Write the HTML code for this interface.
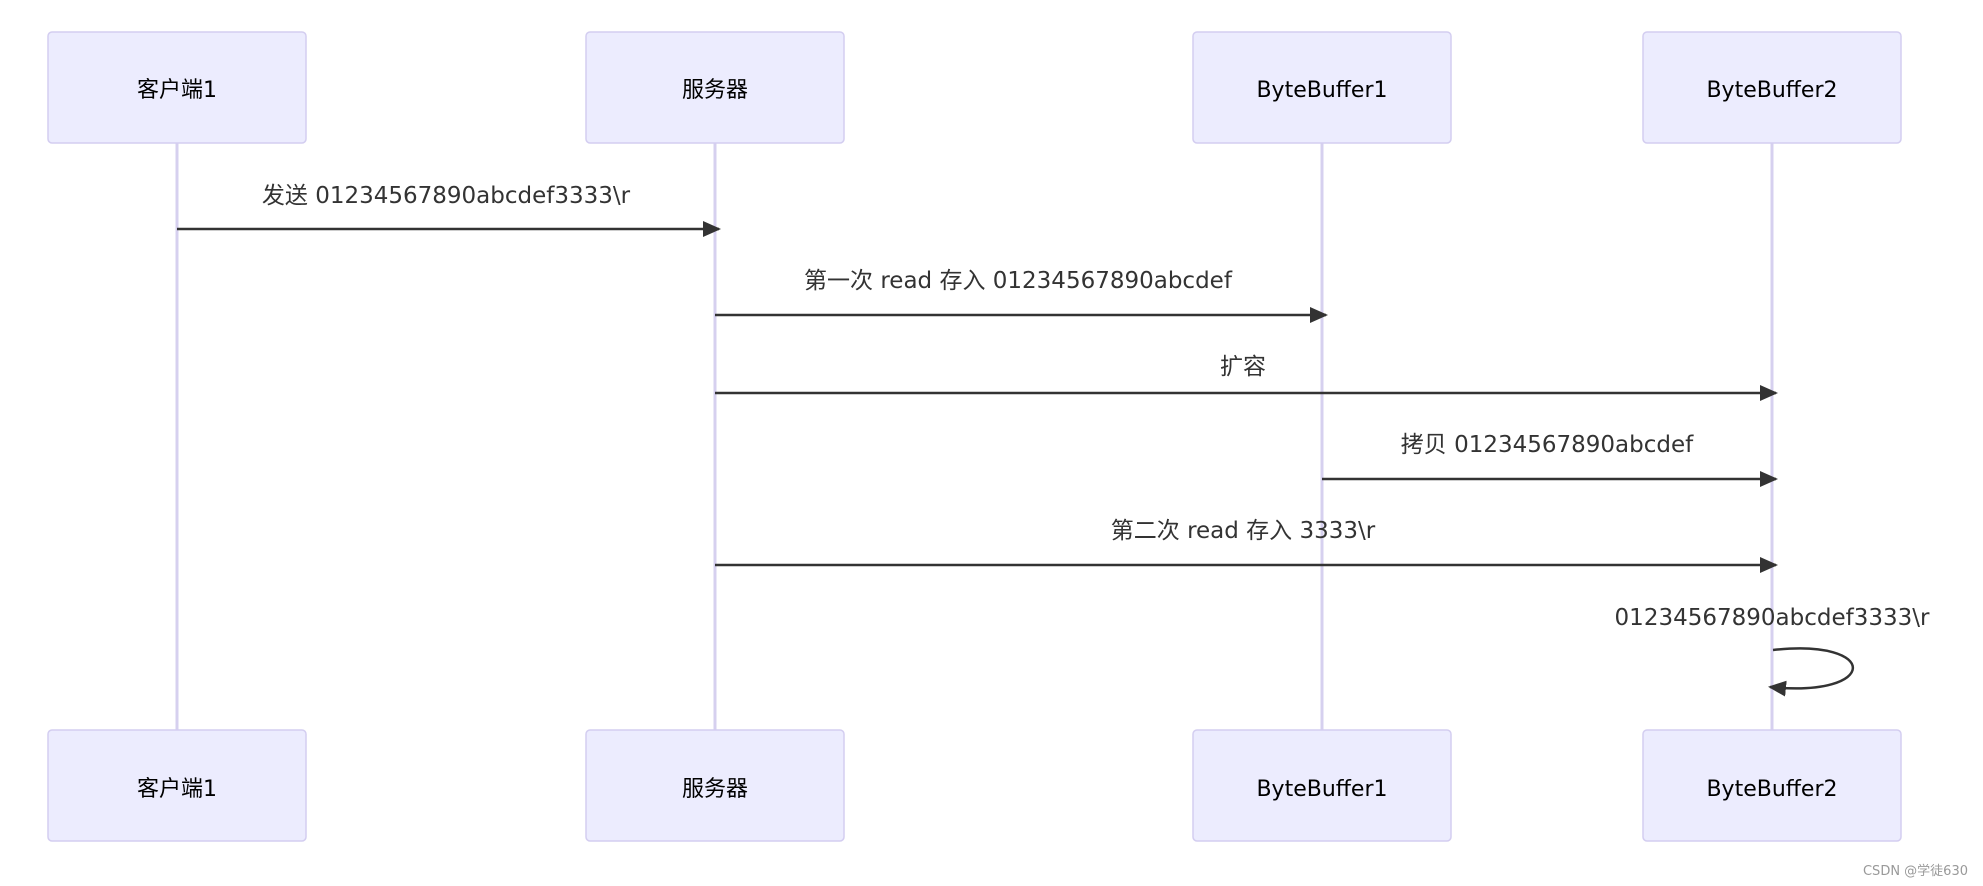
<!DOCTYPE html>
<html><head><meta charset="utf-8"><style>
body{margin:0;background:#fff;}
svg{display:block;}
text{font-family:"DejaVu Sans","Noto Sans CJK SC",sans-serif;}
</style></head><body>
<svg width="1983" height="886" viewBox="0 0 1983 886" xmlns="http://www.w3.org/2000/svg">
<defs><marker id="a" markerWidth="18" markerHeight="16" refX="16" refY="8" orient="auto" markerUnits="userSpaceOnUse"><path d="M0,0 L18,8 L0,16 z" fill="#333"/></marker></defs>
<g stroke="#d6d0ef" stroke-width="3">
<line x1="177" y1="143" x2="177" y2="730"/><line x1="715" y1="143" x2="715" y2="730"/>
<line x1="1322" y1="143" x2="1322" y2="730"/><line x1="1772" y1="143" x2="1772" y2="730"/>
</g>
<g fill="#ececfe" stroke="#d3cdf0" stroke-width="1.5">
<rect x="48" y="32" width="258" height="111" rx="4"/><rect x="586" y="32" width="258" height="111" rx="4"/>
<rect x="1193" y="32" width="258" height="111" rx="4"/><rect x="1643" y="32" width="258" height="111" rx="4"/>
<rect x="48" y="730" width="258" height="111" rx="4"/><rect x="586" y="730" width="258" height="111" rx="4"/>
<rect x="1193" y="730" width="258" height="111" rx="4"/><rect x="1643" y="730" width="258" height="111" rx="4"/>
</g>
<g font-size="22" text-anchor="middle" fill="#000">
<text x="177" y="97">客户端1</text><text x="715" y="97">服务器</text><text x="1322" y="97">ByteBuffer1</text><text x="1772" y="97">ByteBuffer2</text>
<text x="177" y="796">客户端1</text><text x="715" y="796">服务器</text><text x="1322" y="796">ByteBuffer1</text><text x="1772" y="796">ByteBuffer2</text>
</g>
<g stroke="#333" stroke-width="2.5" fill="none" marker-end="url(#a)">
<line x1="177" y1="229" x2="719" y2="229"/>
<line x1="715" y1="315" x2="1326" y2="315"/>
<line x1="715" y1="393" x2="1776" y2="393"/>
<line x1="1322" y1="479" x2="1776" y2="479"/>
<line x1="715" y1="565" x2="1776" y2="565"/>
<path d="M1773,650 C1880,638 1880,698 1770,687"/>
</g>
<g font-size="23" text-anchor="middle" fill="#333">
<text x="446" y="203">发送 01234567890abcdef3333\r</text>
<text x="1018" y="288">第一次 read 存入 01234567890abcdef</text>
<text x="1243" y="374">扩容</text>
<text x="1547" y="452">拷贝 01234567890abcdef</text>
<text x="1243" y="538">第二次 read 存入 3333\r</text>
<text x="1772" y="625">01234567890abcdef3333\r</text>
</g>
<text x="1968" y="875" font-size="13" fill="#999" text-anchor="end">CSDN @学徒630</text>
</svg>
</body></html>
